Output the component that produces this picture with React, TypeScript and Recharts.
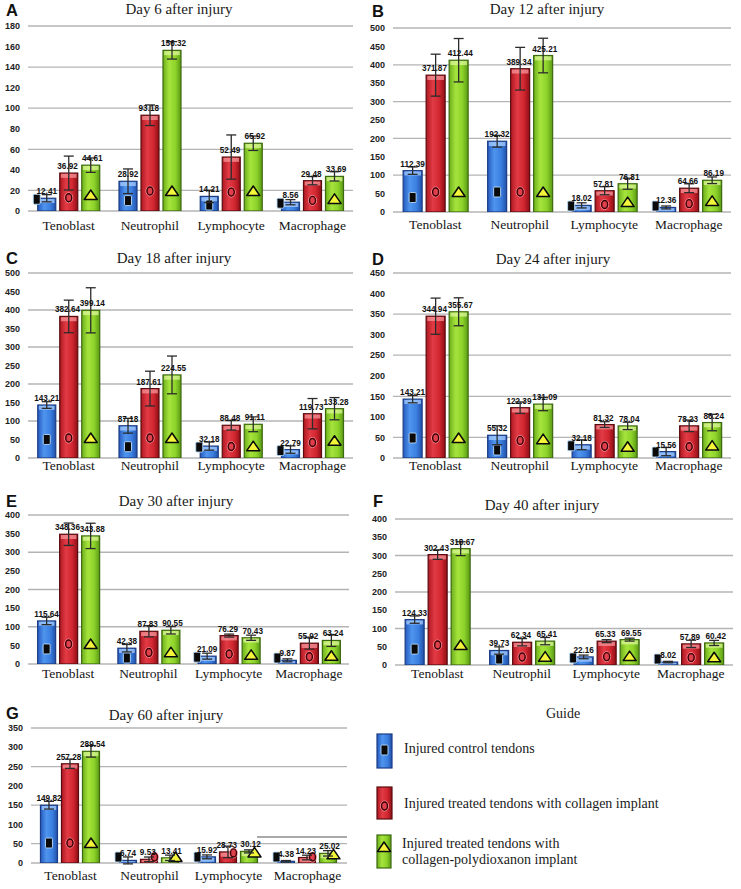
import React from 'react';
import { BarChart, Bar, XAxis, YAxis, CartesianGrid, ErrorBar, LabelList } from 'recharts';

const cellTypes = ['Tenoblast', 'Neutrophil', 'Lymphocyte', 'Macrophage'];
const guideLabels = ['Injured control tendons', 'Injured treated tendons with collagen implant'];
const guideLabelPdo = ['Injured treated tendons with', 'collagen-polydioxanon implant'];

// Day 6
const day6Control = [12.41, 28.92, 14.21, 8.56];
const day6Collagen = [36.92, 93.18, 52.49, 29.48];
const day6Pdo = [44.61, 156.32, 65.92, 33.69];
const day6ControlErr = [3.5, 12, 6, 2.5];
const day6CollagenErr = [16.5, 10, 21.5, 4];
const day6PdoErr = [7, 8.5, 7, 4.5];
const day6Ticks = [0, 20, 40, 60, 80, 100, 120, 140, 160, 180];

// Day 12
const day12Control = [112.39, 192.32, 18.02, 12.36];
const day12Collagen = [371.87, 389.34, 57.81, 64.66];
const day12Pdo = [412.44, 425.21, 76.81, 86.19];
const day12ControlErr = [10, 16, 7, 4];
const day12CollagenErr = [57, 58, 11, 12];
const day12PdoErr = [59, 47, 15, 9];
const day12Ticks = [0, 50, 100, 150, 200, 250, 300, 350, 400, 450, 500];

// Day 18
const day18Control = [143.21, 87.18, 32.18, 22.79];
const day18Collagen = [382.64, 187.61, 88.48, 119.73];
const day18Pdo = [399.14, 224.55, 91.11, 133.28];
const day18ControlErr = [9, 20, 11, 10];
const day18CollagenErr = [44, 47, 13, 41];
const day18PdoErr = [61, 51, 20, 30];
const day18Ticks = [0, 50, 100, 150, 200, 250, 300, 350, 400, 450, 500];

// Day 24
const day24Control = [143.21, 55.32, 32.18, 15.56];
const day24Collagen = [344.94, 122.39, 81.32, 78.23];
const day24Pdo = [355.67, 131.09, 78.04, 86.24];
const day24ControlErr = [9, 23, 12, 10];
const day24CollagenErr = [44, 14, 7, 14];
const day24PdoErr = [34, 16, 9, 20];
const day24Ticks = [0, 50, 100, 150, 200, 250, 300, 350, 400, 450];

// Day 30
const day30Control = [115.64, 42.38, 21.09, 9.87];
const day30Collagen = [348.36, 87.83, 76.29, 55.92];
const day30Pdo = [343.88, 90.55, 70.43, 63.24];
const day30ControlErr = [10, 10, 8, 4];
const day30CollagenErr = [30, 15, 4, 16];
const day30PdoErr = [34, 10, 7, 16];
const day30Ticks = [0, 50, 100, 150, 200, 250, 300, 350, 400];

// Day 40
const day40Control = [124.33, 39.73, 22.16, 8.02];
const day40Collagen = [302.43, 62.34, 65.33, 57.89];
const day40Pdo = [318.67, 65.41, 69.55, 60.42];
const day40ControlErr = [10, 10, 5, 2];
const day40CollagenErr = [13, 10, 4, 10];
const day40PdoErr = [19, 10, 4, 7];
const day40Ticks = [0, 50, 100, 150, 200, 250, 300, 350, 400];

// Day 60
const day60Control = [149.82, 6.74, 15.92, 4.38];
const day60Collagen = [257.28, 9.53, 28.73, 14.23];
const day60Pdo = [289.54, 13.41, 30.12, 25.02];
const day60ControlErr = [10, 9, 5, 2];
const day60CollagenErr = [12, 6, 15, 6];
const day60PdoErr = [15, 7, 4, 7];
const day60Ticks = [0, 50, 100, 150, 200, 250, 300, 350];

const buildRows = (
  control: number[], collagen: number[], pdo: number[],
  controlErr: number[], collagenErr: number[], pdoErr: number[]
) =>
  cellTypes.map((cell, i) => ({
    cell,
    control: control[i],
    collagen: collagen[i],
    pdo: pdo[i],
    controlErr: controlErr[i],
    collagenErr: collagenErr[i],
    pdoErr: pdoErr[i],
  }));

const SANS = '"Liberation Sans", Arial, sans-serif';
const SERIF = '"Liberation Serif", "Times New Roman", serif';

type Kind = 'control' | 'collagen' | 'pdo';

const palette: Record<Kind, { edge: string; top: string }> = {
  control: { edge: '#1c3d85', top: '#a8cdff' },
  collagen: { edge: '#5a0c10', top: '#f4959b' },
  pdo: { edge: '#3d6a10', top: '#dcf79a' },
};

// small horizontal nudge of value labels so neighbours don't collide
const labelShift: Record<Kind, number> = { control: 0, collagen: -1.2, pdo: 1.6 };

// layout of each panel (plot box in page pixels, text anchors)
const panels = [
  { letter: 'A', title: 'Day 6 after injury', rows: buildRows(day6Control, day6Collagen, day6Pdo, day6ControlErr, day6CollagenErr, day6PdoErr), ticks: day6Ticks,
    plot: { left: 28, right: 353, top: 26, bottom: 211 }, labelBase: 229.5, letterAt: [6, 16], titleAt: [179, 13.5] },
  { letter: 'B', title: 'Day 12 after injury', rows: buildRows(day12Control, day12Collagen, day12Pdo, day12ControlErr, day12CollagenErr, day12PdoErr), ticks: day12Ticks,
    plot: { left: 393, right: 731, top: 28, bottom: 212 }, labelBase: 229, letterAt: [372, 17], titleAt: [547, 13.5] },
  { letter: 'C', title: 'Day 18 after injury', rows: buildRows(day18Control, day18Collagen, day18Pdo, day18ControlErr, day18CollagenErr, day18PdoErr), ticks: day18Ticks,
    plot: { left: 28, right: 353, top: 273, bottom: 458 }, labelBase: 470, letterAt: [6, 264], titleAt: [174, 263] },
  { letter: 'D', title: 'Day 24 after injury', rows: buildRows(day24Control, day24Collagen, day24Pdo, day24ControlErr, day24CollagenErr, day24PdoErr), ticks: day24Ticks,
    plot: { left: 393, right: 731, top: 273, bottom: 458 }, labelBase: 470, letterAt: [372, 265], titleAt: [553, 264] },
  { letter: 'E', title: 'Day 30 after injury', rows: buildRows(day30Control, day30Collagen, day30Pdo, day30ControlErr, day30CollagenErr, day30PdoErr), ticks: day30Ticks,
    plot: { left: 28, right: 349, top: 515, bottom: 664 }, labelBase: 678, letterAt: [6, 507], titleAt: [176, 506] },
  { letter: 'F', title: 'Day 40 after injury', rows: buildRows(day40Control, day40Collagen, day40Pdo, day40ControlErr, day40CollagenErr, day40PdoErr), ticks: day40Ticks,
    plot: { left: 395, right: 733, top: 519, bottom: 665 }, labelBase: 678, letterAt: [373, 507], titleAt: [542, 510] },
  { letter: 'G', title: 'Day 60 after injury', rows: buildRows(day60Control, day60Collagen, day60Pdo, day60ControlErr, day60CollagenErr, day60PdoErr), ticks: day60Ticks,
    plot: { left: 31, right: 347, top: 728, bottom: 863 }, labelBase: 880, letterAt: [6, 719], titleAt: [166, 720] },
];

function Marker({ kind, cx, cy }: { kind: Kind; cx: number; cy: number }) {
  if (kind === 'control') {
    return <rect x={cx - 3.5} y={cy - 5} width={7} height={10} rx={1.2} fill="#0a0a0a" stroke="#b9dcff" strokeWidth={0.9} />;
  }
  if (kind === 'collagen') {
    return (
      <g>
        <ellipse cx={cx} cy={cy} rx={4} ry={5} fill="none" stroke="#ff9aa3" strokeWidth={0.9} />
        <ellipse cx={cx} cy={cy} rx={3} ry={4} fill="#e0404c" stroke="#3a0006" strokeWidth={1.4} />
      </g>
    );
  }
  return (
    <polygon
      points={`${cx},${cy - 5} ${cx + 6.5},${cy + 4.5} ${cx - 6.5},${cy + 4.5}`}
      fill="#f2f53a"
      stroke="#0a0a0a"
      strokeWidth={1.5}
      strokeLinejoin="round"
    />
  );
}

function GlossyBar(props: any) {
  const { x, y, width, height, kind } = props as { x: number; y: number; width: number; height: number; kind: Kind };
  if (!(height > 0)) return null;
  const c = palette[kind];
  const bottom = y + height;
  let cx = x + width / 2;
  let cy = bottom - Math.min(20, Math.max(6, height * 0.35));
  if (height < 13.5) {
    cy = bottom - Math.max(6, height - 1);
    cx = kind === 'control' ? x - 1 : x + width - 3;
  }
  return (
    <g>
      <rect x={x} y={y} width={width} height={height} fill={`url(#grad-${kind})`} stroke={c.edge} strokeWidth={1.2} />
      <rect x={x + 1.2} y={y + 0.8} width={Math.max(0, width - 2.4)} height={Math.max(0, Math.min(4, height - 1.6))} fill={c.top} opacity={0.75} />
      <Marker kind={kind} cx={cx} cy={cy} />
    </g>
  );
}

const fmt = (v: any) => Number(v).toFixed(2);

const seriesKinds: Kind[] = ['control', 'collagen', 'pdo'];

function PanelChart({ panel }: { panel: (typeof panels)[number] }) {
  const { plot } = panel;
  const chartLeft = plot.left - 28;
  const chartTop = plot.top - 14;
  const width = plot.right + 4 - chartLeft;
  const height = plot.bottom + 26 - chartTop;
  const max = panel.ticks[panel.ticks.length - 1];
  const base = panel.labelBase - chartTop;

  return (
    <div style={{ position: 'absolute', left: chartLeft, top: chartTop, width, height }}>
      <BarChart
        width={width}
        height={height}
        data={panel.rows}
        margin={{ top: 14, right: 4, bottom: 0, left: 0 }}
        barCategoryGap="12%"
        barGap={4}
      >
        <CartesianGrid vertical={false} stroke="#b4b4b4" strokeWidth={1.3} />
        <XAxis
          dataKey="cell"
          axisLine={false}
          tickLine={false}
          height={26}
          interval={0}
          tick={(t: any) => (
            <text x={t.x} y={base} textAnchor="middle" fontFamily={SERIF} fontSize={13.5} fill="#151515">
              {t.payload.value}
            </text>
          )}
        />
        <YAxis
          width={28}
          domain={[0, max]}
          ticks={panel.ticks}
          allowDataOverflow
          axisLine={false}
          tickLine={false}
          tick={{ fontSize: 9, fontWeight: 700, fill: '#1e1e1e', fontFamily: SANS }}
        />
        {seriesKinds.map((kind) => (
          <Bar
            key={kind}
            dataKey={kind}
            isAnimationActive={false}
            shape={(s: any) => <GlossyBar {...s} kind={kind} />}
          >
            <ErrorBar dataKey={`${kind}Err`} width={5} stroke="#2b2b2b" strokeWidth={1.3} isAnimationActive={false} />
            <LabelList
              dataKey={kind}
              position="top"
              offset={4}
              formatter={fmt}
              dx={labelShift[kind]}
              fill="#111"
              fontSize={8.2}
              fontWeight={700}
              fontFamily={SANS}
            />
          </Bar>
        ))}
      </BarChart>
    </div>
  );
}

function Overlay() {
  return (
    <svg width={741} height={889} style={{ position: 'absolute', left: 0, top: 0, pointerEvents: 'none' }}>
      <defs>
        <linearGradient id="grad-control" x1="0" y1="0" x2="1" y2="0">
          <stop offset="0%" stopColor="#2559be" />
          <stop offset="35%" stopColor="#4f95ee" />
          <stop offset="70%" stopColor="#3b7fe0" />
          <stop offset="100%" stopColor="#2150a8" />
        </linearGradient>
        <linearGradient id="grad-collagen" x1="0" y1="0" x2="1" y2="0">
          <stop offset="0%" stopColor="#ad1720" />
          <stop offset="35%" stopColor="#e23b45" />
          <stop offset="70%" stopColor="#d02630" />
          <stop offset="100%" stopColor="#8e0e15" />
        </linearGradient>
        <linearGradient id="grad-pdo" x1="0" y1="0" x2="1" y2="0">
          <stop offset="0%" stopColor="#6cae1c" />
          <stop offset="35%" stopColor="#a6e43c" />
          <stop offset="70%" stopColor="#8cd22a" />
          <stop offset="100%" stopColor="#5a9914" />
        </linearGradient>
      </defs>

      {panels.map((p) => (
        <g key={p.letter}>
          <text x={p.letterAt[0]} y={p.letterAt[1]} fontFamily={SANS} fontWeight={700} fontSize={16.5} fill="#111">
            {p.letter}
          </text>
          <text x={p.titleAt[0]} y={p.titleAt[1]} textAnchor="middle" fontFamily={SERIF} fontSize={15} fill="#1a1a1a">
            {p.title}
          </text>
        </g>
      ))}

      {/* stray frame line in panel G */}
      <line x1={257} y1={837} x2={347} y2={837} stroke="#555" strokeWidth={1} />

      {/* Guide */}
      <text x={563} y={718} textAnchor="middle" fontFamily={SERIF} fontSize={14} fill="#1a1a1a">Guide</text>

      <rect x={377} y={734} width={15} height={34} fill="url(#grad-control)" stroke="#1c3d85" strokeWidth={1.2} />
      <Marker kind="control" cx={384.5} cy={750} />
      <text x={404} y={753} fontFamily={SERIF} fontSize={14} fill="#1a1a1a">{guideLabels[0]}</text>

      <rect x={377} y={787} width={15} height={32} fill="url(#grad-collagen)" stroke="#5a0c10" strokeWidth={1.2} />
      <Marker kind="collagen" cx={384.5} cy={806} />
      <text x={404} y={808} fontFamily={SERIF} fontSize={14} fill="#1a1a1a">{guideLabels[1]}</text>

      <rect x={377} y={835} width={14} height={33} fill="url(#grad-pdo)" stroke="#3d6a10" strokeWidth={1.2} />
      <Marker kind="pdo" cx={384} cy={847} />
      <text x={402} y={848} fontFamily={SERIF} fontSize={14} fill="#1a1a1a">{guideLabelPdo[0]}</text>
      <text x={402} y={864} fontFamily={SERIF} fontSize={14} fill="#1a1a1a">{guideLabelPdo[1]}</text>
    </svg>
  );
}

export default function App() {
  return (
    <div style={{ position: 'absolute', left: 0, top: 0, width: 741, height: 889, background: '#fff', overflow: 'hidden' }}>
      {panels.map((p) => (
        <PanelChart key={p.letter} panel={p} />
      ))}
      <Overlay />
    </div>
  );
}
